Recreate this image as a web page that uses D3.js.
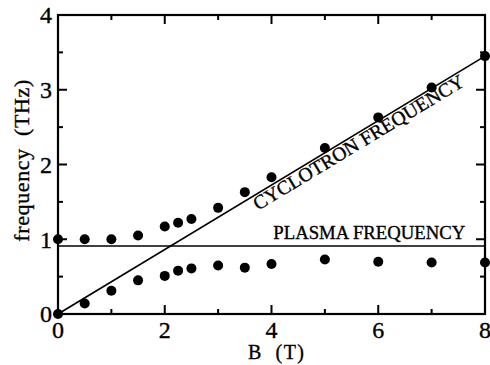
<!DOCTYPE html>
<html>
<head>
<meta charset="utf-8">
<script src="https://cdn.jsdelivr.net/npm/d3@7"></script>
<style>
  html, body { margin: 0; padding: 0; background: #fff; }
  svg { display: block; }
  text { font-family: "Liberation Serif", "Times New Roman", serif; fill: #000; stroke: #000; stroke-width: 0.35px; }
</style>
</head>
<body>
<script>
// ---- data ----
const fieldB = [0, 0.5, 1, 1.5, 2, 2.25, 2.5, 3, 3.5, 4, 5, 6, 7, 8];
const upperFreq = [1.00, 1.00, 1.00, 1.05, 1.17, 1.22, 1.27, 1.42, 1.63, 1.83, 2.22, 2.63, 3.03, 3.45];
const lowerFreq = [0.00, 0.14, 0.31, 0.45, 0.51, 0.58, 0.61, 0.65, 0.62, 0.67, 0.73, 0.70, 0.69, 0.69];
const cyclotronLine = [[0, 0], [8, 3.45]];
const plasmaLine = [[0, 0.91], [8, 0.91]];
const xTickLabels = [0, 2, 4, 6, 8];
const xMinorTicks = [1, 3, 5, 7];
const yTickLabels = [0, 1, 2, 3, 4];
const yMinorTicks = [0.5, 1.5, 2.5, 3.5];
const xAxisTitle = "B  (T)";
const yAxisTitle = "frequency  (THz)";
const cyclotronLabel = "CYCLOTRON FREQUENCY";
const plasmaLabel = "PLASMA FREQUENCY";

(function () {
// ---- layout ----
const W = 490, H = 365;
const pL = 58, pR = 485, pT = 15, pB = 314;

const svg = d3.select("body").append("svg").attr("width", W).attr("height", H);

const x = d3.scaleLinear().domain([0, 8]).range([pL, pR]);
const y = d3.scaleLinear().domain([0, 4]).range([pB, pT]);

const major = 9, minor = 5;

// ticks (inward, on all sides)
const tg = svg.append("g").attr("stroke", "#000").attr("stroke-width", 2);
function xTicks(vals, len) {
  vals.forEach(v => {
    tg.append("line").attr("x1", x(v)).attr("x2", x(v)).attr("y1", pB).attr("y2", pB - len);
    tg.append("line").attr("x1", x(v)).attr("x2", x(v)).attr("y1", pT).attr("y2", pT + len);
  });
}
function yTicks(vals, len) {
  vals.forEach(v => {
    tg.append("line").attr("y1", y(v)).attr("y2", y(v)).attr("x1", pL).attr("x2", pL + len);
    tg.append("line").attr("y1", y(v)).attr("y2", y(v)).attr("x1", pR).attr("x2", pR - len);
  });
}
xTicks(xTickLabels, major); xTicks(xMinorTicks, minor);
yTicks(yTickLabels, major); yTicks(yMinorTicks, minor);

// lines
const lineGen = d3.line().x(d => x(d[0])).y(d => y(d[1]));
svg.append("path").attr("d", lineGen(cyclotronLine)).attr("fill", "none").attr("stroke", "#000").attr("stroke-width", 1.7);
svg.append("path").attr("d", lineGen(plasmaLine)).attr("fill", "none").attr("stroke", "#000").attr("stroke-width", 1.7);

// frame
svg.append("rect").attr("x", pL).attr("y", pT).attr("width", pR - pL).attr("height", pB - pT)
  .attr("fill", "none").attr("stroke", "#000").attr("stroke-width", 2.2);

// points
const pts = svg.append("g");
fieldB.forEach((b, i) => {
  pts.append("circle").attr("cx", x(b)).attr("cy", y(upperFreq[i])).attr("r", 5).attr("fill", "#000");
  pts.append("circle").attr("cx", x(b)).attr("cy", y(lowerFreq[i])).attr("r", 5).attr("fill", "#000");
});

// tick labels
svg.append("g").selectAll("text").data(xTickLabels).join("text")
  .attr("x", d => x(d)).attr("y", 338).attr("text-anchor", "middle")
  .attr("font-size", 24).text(d => d);
svg.append("g").selectAll("text").data(yTickLabels).join("text")
  .attr("x", 52).attr("y", d => y(d) + 8.3).attr("text-anchor", "end")
  .attr("font-size", 24).text(d => d);

// axis titles
svg.append("text").attr("x", 248).attr("y", 359).attr("font-size", 20)
  .attr("textLength", 56).attr("lengthAdjust", "spacing")
  .style("white-space", "pre").text(xAxisTitle);
svg.append("text").attr("transform", "translate(28.5,241.7) rotate(-90)")
  .attr("font-size", 22).attr("textLength", 162).attr("lengthAdjust", "spacing")
  .style("white-space", "pre").text(yAxisTitle);

// plasma label
svg.append("text").attr("x", 273.3).attr("y", 239.3).attr("font-size", 19)
  .attr("textLength", 192).attr("lengthAdjust", "spacingAndGlyphs").text(plasmaLabel);

// cyclotron label along the line
const x0 = x(cyclotronLine[0][0]), y0 = y(cyclotronLine[0][1]);
const x1 = x(cyclotronLine[1][0]), y1 = y(cyclotronLine[1][1]);
const ang = Math.atan2(y1 - y0, x1 - x0);
const tB = 3.6;
const qx = x(tB), qy = y(tB * cyclotronLine[1][1] / cyclotronLine[1][0]);
const off = 15;
const px = qx - Math.sin(ang) * off, py = qy + Math.cos(ang) * off;
svg.append("text").attr("transform", `translate(${px},${py}) rotate(${ang * 180 / Math.PI})`)
  .attr("font-size", 19.5).attr("textLength", 243).attr("lengthAdjust", "spacingAndGlyphs")
  .text(cyclotronLabel);
})();
</script>
</body>
</html>
